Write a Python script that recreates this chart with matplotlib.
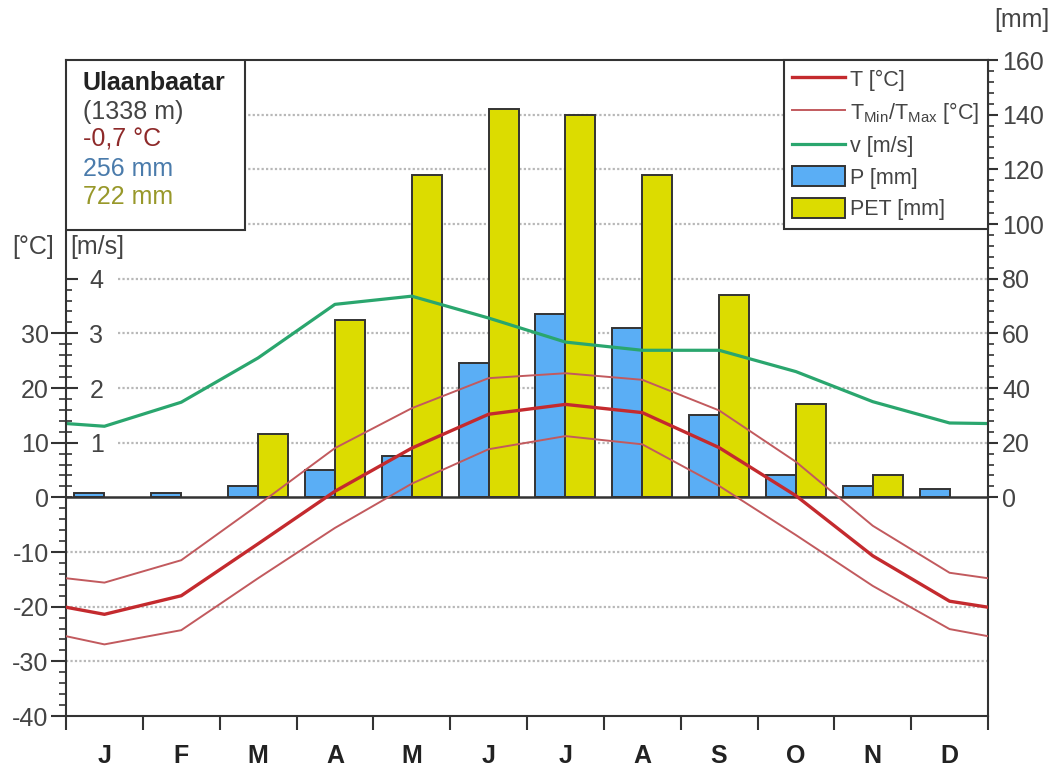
import numpy as np
import matplotlib
matplotlib.use('Agg')
from matplotlib import pyplot as plt
from matplotlib.lines import Line2D
from matplotlib.patches import Patch, Rectangle

plt.rcParams['font.family'] = ['Liberation Sans', 'DejaVu Sans']
plt.rcParams['mathtext.fontset'] = 'custom'
plt.rcParams['mathtext.rm'] = 'Liberation Sans'
plt.rcParams['axes.unicode_minus'] = False

#%% Datos leidos del climograma
meses = ['J', 'F', 'M', 'A', 'M', 'J', 'J', 'A', 'S', 'O', 'N', 'D']
t_media = [-21.4, -18.0, -8.5, 1.1, 9.0, 15.2, 17.0, 15.5, 9.1, 0.3, -10.7, -19.0]
t_max = [-15.6, -11.5, -1.4, 9.0, 16.3, 21.8, 22.7, 21.5, 15.9, 6.5, -5.2, -13.8]
t_min = [-26.9, -24.3, -14.8, -5.6, 2.5, 8.8, 11.2, 9.7, 2.1, -6.9, -16.2, -24.1]
viento = [1.30, 1.74, 2.55, 3.53, 3.68, 3.28, 2.84, 2.69, 2.69, 2.30, 1.75, 1.36]
precip = [1.6, 1.6, 4.0, 9.9, 15.0, 49.0, 67.0, 62.0, 30.0, 8.0, 4.1, 3.2]
pet = [0, 0, 23, 65, 118, 142, 140, 118, 74, 34, 8, 0]
# valores en el borde (diciembre-enero)
borde_t = -20.1
borde_tmax = -14.8
borde_tmin = -25.4
borde_v = 1.35

estacion = 'Ulaanbaatar'
altura = '(1338 m)'
t_anual = '-0,7 °C'
p_anual = '256 mm'
pet_anual = '722 mm'

#%% Colores
c_t = '#c42a2e'
c_tmm = '#c25a5e'
c_v = '#2aa66e'
c_p = '#5aaef5'
c_pet = '#dcdc00'
c_borde = '#333333'
c_txt = '#444444'
fs = 18

#%% Figura
fig = plt.figure(figsize=(10.54, 7.67), dpi=100)
ax = fig.add_axes([66/1054, 51/767, 922/1054, 656/767])
ax_mm = ax.twinx()
ax_v = ax.twinx()
ax.set_zorder(ax_mm.get_zorder() + 2)
ax_v.set_zorder(ax_mm.get_zorder() + 1)
ax.patch.set_visible(False)
ax_v.patch.set_visible(False)

ax.set_xlim(0, 12)
ax.set_ylim(-40, 80)
ax_mm.set_ylim(-80, 160)
ax_v.set_ylim(-4, 8)

x_mes = np.arange(12) + 0.5
x_lin = np.concatenate([[0], x_mes, [12]])

# lineas de grilla (detras de las barras)
for g in [-60, -40, -20]:
    ax_mm.hlines(g, 0, 12, colors='#b8b8b8', linestyles=(0, (1, 1)), lw=1.6, zorder=0)
for g in [20, 40, 60, 80]:
    ax_mm.hlines(g, 0.68, 12, colors='#b8b8b8', linestyles=(0, (1, 1)), lw=1.6, zorder=0)
for g in [100, 120, 140]:
    ax_mm.hlines(g, 0, 12, colors='#b8b8b8', linestyles=(0, (1, 1)), lw=1.6, zorder=0)

# barras
ancho = 0.39
ax_mm.bar(x_mes - ancho, precip, width=ancho, align='edge', color=c_p,
          edgecolor=c_borde, lw=1.4, zorder=2)
pet_arr = np.array(pet, dtype=float)
hay = pet_arr > 0
ax_mm.bar(x_mes[hay], pet_arr[hay], width=ancho, align='edge', color=c_pet,
          edgecolor=c_borde, lw=1.4, zorder=2)

# viento
ax_v.plot(x_lin, [borde_v] + viento + [borde_v], color=c_v, lw=2.3)

# temperaturas
ax.axhline(0, color=c_borde, lw=1.8, zorder=1)
ax.plot(x_lin, [borde_tmax] + t_max + [borde_tmax], color=c_tmm, lw=1.4, zorder=3)
ax.plot(x_lin, [borde_tmin] + t_min + [borde_tmin], color=c_tmm, lw=1.4, zorder=3)
ax.plot(x_lin, [borde_t] + t_media + [borde_t], color=c_t, lw=2.4, zorder=3)

# ejes y bordes
for s in ax.spines.values():
    s.set_color(c_borde)
    s.set_linewidth(1.5)
for a in (ax_mm, ax_v):
    for s in a.spines.values():
        s.set_visible(False)

ax.set_xticks(np.arange(13))
ax.set_xticklabels([])
ax.tick_params(axis='x', which='major', direction='out', length=10, width=1.5, color=c_borde)
ax.set_xticks(x_mes, minor=True)
ax.set_xticklabels(meses, minor=True, fontsize=fs, fontweight='bold', color='#222222')
ax.tick_params(axis='x', which='minor', length=0, pad=20)

ax.set_yticks(np.arange(-40, 31, 10))
ax.set_yticks(np.arange(-40, 31, 2), minor=True)
ax.tick_params(axis='y', which='major', direction='out', length=11, width=1.5,
               color=c_borde, labelsize=fs, labelcolor=c_txt, pad=1.5)
ax.tick_params(axis='y', which='minor', direction='out', length=5, width=1.2, color=c_borde)

ax_mm.set_yticks(np.arange(0, 161, 20))
ax_mm.set_yticks(np.arange(0, 161, 4), minor=True)
ax_mm.tick_params(axis='y', which='major', direction='out', length=7, width=1.5,
                  color=c_borde, labelsize=fs, labelcolor=c_txt, pad=3)
ax_mm.tick_params(axis='y', which='minor', direction='out', length=4, width=1.2, color=c_borde)

ax_v.yaxis.tick_left()
ax_v.set_yticks([1, 2, 3, 4])
ax_v.set_yticks(np.arange(0, 4.01, 0.2), minor=True)
ax_v.tick_params(axis='y', which='major', direction='in', length=8.5, width=1.5,
                 color=c_borde, labelsize=fs, labelcolor=c_txt, pad=-27)
ax_v.tick_params(axis='y', which='minor', direction='in', length=4.5, width=1.2, color=c_borde)

# unidades
fig.text(33/1054, 1 - 247/767, '[°C]', fontsize=fs, color=c_txt, ha='center', va='center')
fig.text(97/1054, 1 - 247/767, '[m/s]', fontsize=fs, color=c_txt, ha='center', va='center')
fig.text(1022/1054, 1 - 20/767, '[mm]', fontsize=fs, color=c_txt, ha='center', va='center')

# caja de informacion
caja = Rectangle((0, 0.741), 179/922, 0.259, transform=ax.transAxes, facecolor='white',
                 edgecolor=c_borde, lw=1.5, zorder=10)
ax.add_patch(caja)
textos = [(estacion, '#222222', 'bold'), (altura, c_txt, 'normal'),
          (t_anual, '#8e2a2a', 'normal'), (p_anual, '#4a7bab', 'normal'),
          (pet_anual, '#98982a', 'normal')]
for i, (t, c, w) in enumerate(textos):
    fig.text(83/1054, 1 - (83 + i * 28.5)/767, t, fontsize=fs, color=c, fontweight=w,
             ha='left', va='center', zorder=11)

# leyenda
manejadores = [Line2D([], [], color=c_t, lw=2.4),
               Line2D([], [], color=c_tmm, lw=1.4),
               Line2D([], [], color=c_v, lw=2.3),
               Patch(facecolor=c_p, edgecolor=c_borde, lw=1.4),
               Patch(facecolor=c_pet, edgecolor=c_borde, lw=1.4)]
etiquetas = ['T [°C]', r'T$_\mathrm{Min}$/T$_\mathrm{Max}$ [°C]', 'v [m/s]', 'P [mm]', 'PET [mm]']
leg = ax.legend(manejadores, etiquetas, loc='upper right', bbox_to_anchor=(1, 1),
                fontsize=15.5, frameon=True, fancybox=False, edgecolor=c_borde,
                framealpha=1, borderaxespad=0, handlelength=2.45, handleheight=1.05,
                labelspacing=0.42, handletextpad=0.25, borderpad=0.4)
leg.get_frame().set_linewidth(1.5)
for t in leg.get_texts():
    t.set_color(c_txt)
leg.set_zorder(12)

fig.savefig('out.png', dpi=100, facecolor='white')
